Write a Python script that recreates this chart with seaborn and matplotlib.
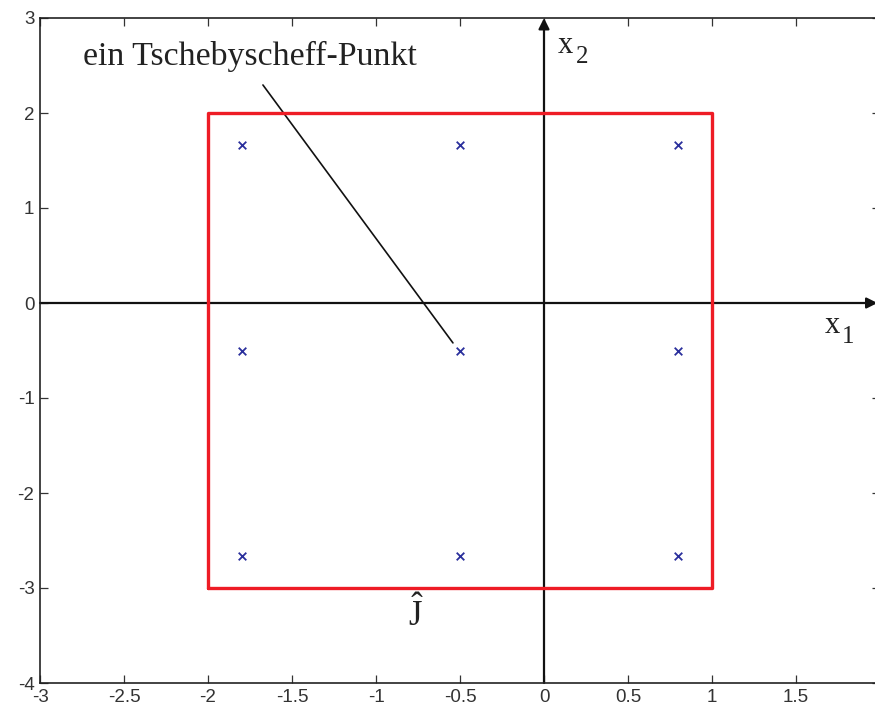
import numpy as np
import pandas as pd
import matplotlib
matplotlib.use("Agg")
import matplotlib.pyplot as plt
import seaborn as sns

# DATA
cheb_x = [-1.799, -0.5, 0.799]
cheb_y = [1.665, -0.5, -2.665]
rect_x = [-2.0, 1.0]
rect_y = [-3.0, 2.0]
x_ticks = [-3, -2.5, -2, -1.5, -1, -0.5, 0, 0.5, 1, 1.5]
x_tick_labels = ["-3", "-2.5", "-2", "-1.5", "-1", "-0.5", "0", "0.5", "1", "1.5"]
y_ticks = [-4, -3, -2, -1, 0, 1, 2, 3]
y_tick_labels = ["-4", "-3", "-2", "-1", "0", "1", "2", "3"]
annot_text = "ein Tschebyscheff-Punkt"
annot_from = (-1.673, 2.295)
annot_to = (-0.542, -0.42)

# STYLE
sns.set_style("ticks")
plt.rcParams["font.family"] = ["Liberation Sans", "DejaVu Sans"]
plt.rcParams["mathtext.fontset"] = "custom"
plt.rcParams["mathtext.rm"] = "Liberation Serif"
plt.rcParams["mathtext.it"] = "Liberation Serif"

fig = plt.figure(figsize=(8.75, 7.04), dpi=100)
ax = fig.add_axes([40 / 875, 1 - 683 / 704, 840 / 875, 665 / 704])

# RECTANGLE
rx = [rect_x[0], rect_x[1], rect_x[1], rect_x[0], rect_x[0]]
ry = [rect_y[0], rect_y[0], rect_y[1], rect_y[1], rect_y[0]]
rect_df = pd.DataFrame({"x": rx, "y": ry})
sns.lineplot(data=rect_df, x="x", y="y", sort=False, estimator=None,
             errorbar=None, color="#ee1c25", linewidth=2.4, ax=ax, zorder=3)

# CHEBYSHEV POINTS
gx, gy = np.meshgrid(cheb_x, cheb_y)
pts = pd.DataFrame({"x": gx.ravel(), "y": gy.ravel()})
sns.scatterplot(data=pts, x="x", y="y", marker="x", color="#2a2f9c",
                s=30, linewidth=1.3, ax=ax, zorder=4)

# COORDINATE ARROWS
arrow = dict(arrowstyle="-|>", color="#111111", lw=1.6,
             mutation_scale=16, shrinkA=0, shrinkB=0)
ax.annotate("", xy=(1.985, 0), xytext=(-3, 0), arrowprops=arrow, zorder=2)
ax.annotate("", xy=(0, 3.0), xytext=(0, -4), arrowprops=arrow, zorder=2,
            annotation_clip=False)
serif = "Liberation Serif"
ax.text(1.673, -0.316, "x", fontsize=22, family=serif, ha="left",
        va="baseline", color="#222222")
ax.text(1.774, -0.42, "1", fontsize=18, family=serif, ha="left",
        va="baseline", color="#222222")
ax.text(0.083, 2.632, "x", fontsize=22, family=serif, ha="left",
        va="baseline", color="#222222")
ax.text(0.19, 2.526, "2", fontsize=18, family=serif, ha="left",
        va="baseline", color="#222222")
ax.text(-0.762, -3.27, r"$\hat{\mathrm{J}}$", fontsize=25, ha="center",
        va="center", color="#222222")

# ANNOTATION
ax.text(-2.744, 2.505, annot_text, fontsize=24.4, family=serif,
        va="baseline", ha="left", color="#222222")
ax.plot([annot_from[0], annot_to[0]], [annot_from[1], annot_to[1]],
        color="#111111", linewidth=1.2)

# AXES
ax.set_xlim(-3, 2)
ax.set_ylim(-4, 3)
ax.set_xticks(x_ticks)
ax.set_xticklabels(x_tick_labels)
ax.set_yticks(y_ticks)
ax.set_yticklabels(y_tick_labels)
ax.set_xlabel("")
ax.set_ylabel("")
ax.tick_params(direction="in", length=6, width=0.9, labelsize=13.5,
               top=True, right=True, pad=4, colors="#333333")
for side in ["left", "right", "top", "bottom"]:
    ax.spines[side].set_visible(True)
    ax.spines[side].set_linewidth(1.2)
    ax.spines[side].set_color("#222222")

fig.savefig("out.png", dpi=100)
